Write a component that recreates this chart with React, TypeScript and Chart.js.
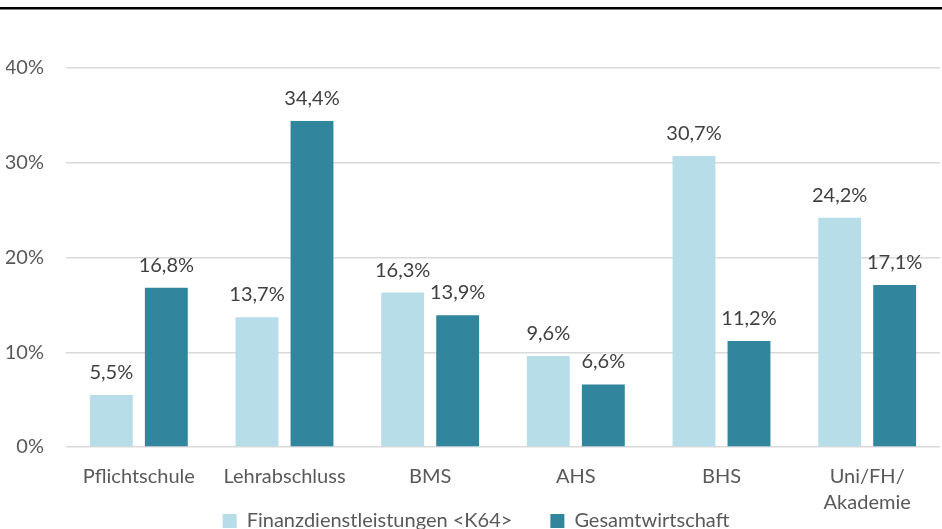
import React, { useEffect, useRef } from "react";
import { Chart, registerables } from "chart.js";

Chart.register(...registerables);

const categories: (string | string[])[] = [
  "Pflichtschule",
  "Lehrabschluss",
  "BMS",
  "AHS",
  "BHS",
  ["Uni/FH/", "Akademie"],
];
const seriesNames = ["Finanzdienstleistungen <K64>", "Gesamtwirtschaft"];
const finanzValues = [5.5, 13.7, 16.3, 9.6, 30.7, 24.2];
const gesamtValues = [16.8, 34.4, 13.9, 6.6, 11.2, 17.1];
const yTicks = [0, 10, 20, 30, 40];

const FONT = "Lato, 'Open Sans', sans-serif";

const topLinePlugin = {
  id: "topLine",
  beforeDraw(chart: any) {
    const ctx = chart.ctx;
    ctx.save();
    ctx.fillStyle = "#000000";
    ctx.fillRect(0, 7, chart.width, 2.5);
    ctx.restore();
  },
};

// move the library's legend box up into the space under the axis labels
const legendPlacePlugin = {
  id: "legendPlace",
  afterLayout(chart: any) {
    const lg = chart.legend;
    if (!lg) return;
    const h = lg.height;
    lg.top = 473;
    lg.bottom = 473 + h;
    lg.left += 3;
    lg.right += 3;
  },
};

const dataLabelPlugin = {
  id: "dataLabels",
  afterDatasetsDraw(chart: any) {
    const ctx = chart.ctx;
    ctx.save();
    ctx.font = `20px ${FONT}`;
    ctx.fillStyle = "#404040";
    ctx.textAlign = "center";
    ctx.textBaseline = "alphabetic";
    chart.data.datasets.forEach((ds: any, di: number) => {
      const meta = chart.getDatasetMeta(di);
      meta.data.forEach((bar: any, i: number) => {
        const v = ds.data[i] as number;
        const txt = v.toFixed(1).replace(".", ",") + "%";
        ctx.fillText(txt, bar.x, bar.y - 16);
      });
    });
    ctx.restore();
  },
};

export default function App() {
  const ref = useRef<HTMLCanvasElement | null>(null);

  useEffect(() => {
    if (!ref.current) return;
    const chart = new Chart(ref.current, {
      type: "bar",
      data: {
        labels: categories as any,
        datasets: [
          {
            label: seriesNames[0],
            data: finanzValues,
            backgroundColor: "#b7dee8",
            barPercentage: 0.78,
            categoryPercentage: 0.755,
          },
          {
            label: seriesNames[1],
            data: gesamtValues,
            backgroundColor: "#31859c",
            barPercentage: 0.78,
            categoryPercentage: 0.755,
          },
        ],
      },
      options: {
        responsive: false,
        animation: false,
        devicePixelRatio: 1,
        layout: { padding: { left: 6, right: 2, top: 68, bottom: 0 } },
        plugins: {
          tooltip: { enabled: false },
          title: { display: false },
          legend: {
            display: true,
            position: "bottom",
            labels: {
              boxWidth: 14,
              boxHeight: 14,
              padding: 38,
              color: "#595959",
              font: { family: FONT, size: 20 },
            },
          },
        },
        scales: {
          x: {
            grid: { display: false, drawTicks: false },
            border: { display: false },
            ticks: {
              color: "#595959",
              padding: 17,
              maxRotation: 0,
              autoSkip: false,
              font: { family: FONT, size: 20, lineHeight: 1.3 },
            },
          },
          y: {
            min: 0,
            max: 40,
            afterBuildTicks(scale: any) {
              scale.ticks = yTicks.map((v) => ({ value: v }));
            },
            grid: { color: "#d9d9d9", lineWidth: 1.5, drawTicks: false },
            border: { display: false },
            ticks: {
              color: "#595959",
              padding: 22,
              font: { family: FONT, size: 20 },
              callback: (v: any) => `${v}%`,
            },
            afterFit(scale: any) {
              scale.width = 60;
            },
          },
        },
      },
      plugins: [topLinePlugin, legendPlacePlugin, dataLabelPlugin],
    });
    return () => chart.destroy();
  }, []);

  return (
    <div
      style={{
        position: "absolute",
        left: 0,
        top: 0,
        width: 942,
        height: 529,
        overflow: "hidden",
        background: "#ffffff",
      }}
    >
      <canvas ref={ref} width={942} height={601} style={{ display: "block" }} />
    </div>
  );
}
